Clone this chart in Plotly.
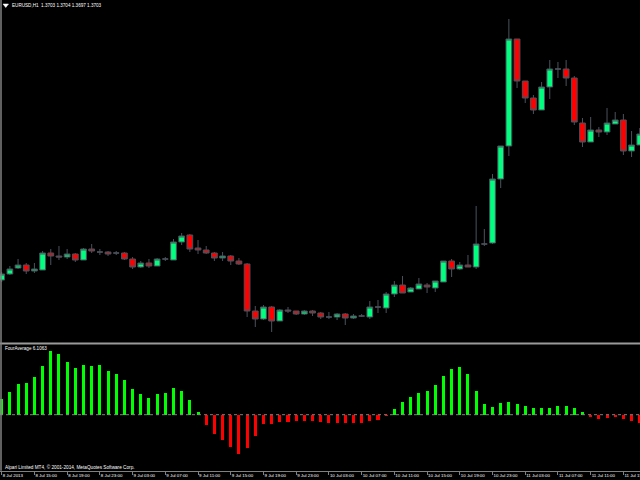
import plotly.graph_objects as go

# ---------------- data ----------------
bars = list(range(79))

opens = [1.2950, 1.2956, 1.2962, 1.2965, 1.2959, 1.2960, 1.2977, 1.2974, 1.2973, 1.2976,
         1.2970, 1.2981, 1.2978, 1.2978, 1.2977, 1.2977, 1.2971, 1.2963, 1.2967, 1.2964,
         1.2971, 1.2970, 1.2988, 1.2995, 1.2982, 1.2980, 1.2977, 1.2972, 1.2974, 1.2969,
         1.2966, 1.2919, 1.2911, 1.2923, 1.2909, 1.2920, 1.2919, 1.2916, 1.2919, 1.2917,
         1.2913, 1.2913, 1.2916, 1.2912, 1.2914, 1.2913, 1.2923, 1.2922, 1.2936, 1.2945,
         1.2938, 1.2941, 1.2945, 1.2942, 1.2948, 1.2969, 1.2961, 1.2965, 1.2963, 1.2986,
         1.2987, 1.3051, 1.3084, 1.3191, 1.3149, 1.3132, 1.3120, 1.3143, 1.3161, 1.3161,
         1.3152, 1.3107, 1.3088, 1.3100, 1.3098, 1.3106, 1.3110, 1.3079, 1.3085]

highs = [1.2958, 1.2964, 1.2971, 1.2967, 1.2967, 1.2979, 1.2981, 1.2984, 1.2981, 1.2977,
         1.2982, 1.2986, 1.2981, 1.2979, 1.2979, 1.2978, 1.2973, 1.2969, 1.2971, 1.2972,
         1.2973, 1.2991, 1.2997, 1.2996, 1.2990, 1.2984, 1.2978, 1.2978, 1.2975, 1.2972,
         1.2967, 1.2924, 1.2925, 1.2924, 1.2921, 1.2923, 1.2919, 1.2920, 1.2920, 1.2918,
         1.2918, 1.2917, 1.2917, 1.2916, 1.2916, 1.2929, 1.2930, 1.2938, 1.2949, 1.2954,
         1.2943, 1.2952, 1.2947, 1.2949, 1.2969, 1.2971, 1.2968, 1.2975, 1.3024, 1.3001,
         1.3056, 1.3084, 1.3211, 1.3191, 1.3149, 1.3135, 1.3148, 1.3170, 1.3168, 1.3170,
         1.3154, 1.3112, 1.3113, 1.3103, 1.3122, 1.3118, 1.3116, 1.3099, 1.3102]

lows = [1.2948, 1.2955, 1.2961, 1.2956, 1.2957, 1.2960, 1.2965, 1.2970, 1.2971, 1.2968,
        1.2970, 1.2977, 1.2975, 1.2974, 1.2975, 1.2970, 1.2961, 1.2962, 1.2962, 1.2964,
        1.2969, 1.2970, 1.2985, 1.2978, 1.2976, 1.2976, 1.2969, 1.2969, 1.2965, 1.2965,
        1.2913, 1.2903, 1.2910, 1.2898, 1.2909, 1.2917, 1.2915, 1.2915, 1.2914, 1.2911,
        1.2911, 1.2910, 1.2905, 1.2911, 1.2913, 1.2911, 1.2917, 1.2917, 1.2933, 1.2937,
        1.2938, 1.2941, 1.2937, 1.2938, 1.2948, 1.2953, 1.2960, 1.2963, 1.2961, 1.2984,
        1.2986, 1.3042, 1.3074, 1.3142, 1.3127, 1.3116, 1.3120, 1.3131, 1.3152, 1.3144,
        1.3105, 1.3083, 1.3088, 1.3093, 1.3095, 1.3106, 1.3075, 1.3073, 1.3085]

closes = [1.2956, 1.2961, 1.2965, 1.2959, 1.2961, 1.2977, 1.2974, 1.2973, 1.2976, 1.2970,
          1.2981, 1.2979, 1.2978, 1.2976, 1.2977, 1.2971, 1.2963, 1.2967, 1.2964, 1.2971,
          1.2971, 1.2988, 1.2994, 1.2981, 1.2980, 1.2977, 1.2972, 1.2974, 1.2969, 1.2966,
          1.2919, 1.2911, 1.2923, 1.2909, 1.2920, 1.2919, 1.2916, 1.2919, 1.2917, 1.2913,
          1.2913, 1.2916, 1.2912, 1.2914, 1.2914, 1.2923, 1.2923, 1.2936, 1.2945, 1.2937,
          1.2942, 1.2946, 1.2943, 1.2949, 1.2969, 1.2961, 1.2965, 1.2963, 1.2986, 1.2986,
          1.3051, 1.3084, 1.3191, 1.3149, 1.3132, 1.3120, 1.3143, 1.3161, 1.3161, 1.3152,
          1.3108, 1.3088, 1.3100, 1.3098, 1.3107, 1.3110, 1.3079, 1.3085, 1.3096]

four_average = [1.53, 2.30, 3.10, 3.20, 3.80, 4.87, 6.40, 6.03, 5.30, 4.70,
                4.97, 4.83, 4.97, 4.40, 4.07, 3.47, 2.57, 2.03, 1.67, 2.07,
                2.20, 2.70, 2.40, 1.47, 0.23, -1.00, -1.93, -2.50, -3.23, -3.90,
                -3.37, -2.13, -0.93, -0.90, -0.77, -0.77, -0.67, -0.63, -0.63, -0.72,
                -0.80, -0.80, -0.80, -0.80, -0.80, -0.67, -0.57, -0.13, 0.53, 1.30,
                1.80, 2.13, 2.37, 2.97, 3.87, 4.53, 4.73, 4.07, 2.37, 1.10,
                0.73, 1.13, 1.30, 1.10, 0.87, 0.67, 0.63, 0.67, 0.83, 0.83,
                0.63, 0.23, -0.20, -0.40, -0.33, -0.27, -0.40, -0.63, -0.80]

tick_bars = [0, 4, 8, 12, 16, 20, 24, 28, 32, 36, 40, 44, 48, 52, 56, 60, 64, 68, 72, 76]
tick_labels = ["8 Jul 2013", "8 Jul 15:00", "8 Jul 19:00", "8 Jul 23:00", "9 Jul 03:00",
               "9 Jul 07:00", "9 Jul 11:00", "9 Jul 15:00", "9 Jul 19:00", "9 Jul 23:00",
               "10 Jul 03:00", "10 Jul 07:00", "10 Jul 11:00", "10 Jul 15:00", "10 Jul 19:00",
               "10 Jul 23:00", "11 Jul 03:00", "11 Jul 07:00", "11 Jul 11:00", "11 Jul 15:00"]

header_text = "EURUSD,H1  1.3703 1.3704 1.3697 1.3703"
indicator_text = "FourAverage 6.1063"
copyright_text = "Alpari Limited MT4, \u00a9 2001-2014, MetaQuotes Software Corp."

# ---------------- style ----------------
W, H = 640, 480
WICK = "#4a525c"
UP = "#00FF7F"
DOWN = "#FF0000"
HIST_UP = "#00FF00"
HIST_DOWN = "#FF0000"
GRID = "#808080"
FONT = "Liberation Sans"


def py(px):
    return 1 - px / H


def px_x(px):
    return px / W


fig = go.Figure()
fig.add_trace(go.Candlestick(
    x=bars, open=opens, high=highs, low=lows, close=closes,
    xaxis="x", yaxis="y",
    increasing=dict(line=dict(color=WICK, width=1), fillcolor=UP),
    decreasing=dict(line=dict(color=WICK, width=1), fillcolor=DOWN),
    whiskerwidth=0, showlegend=False, hoverinfo="skip",
))
fig.add_trace(go.Bar(
    x=bars, y=four_average, xaxis="x", yaxis="y2",
    marker=dict(color=[HIST_UP if v > 0 else HIST_DOWN for v in four_average], line=dict(width=0)),
    width=0.37, showlegend=False, hoverinfo="skip",
))

shapes = [
    # pane separator
    dict(type="line", xref="paper", yref="paper", x0=0, x1=1, y0=py(343.5), y1=py(343.5),
         line=dict(color="#9a9a9a", width=2)),
    # left border
    dict(type="line", xref="paper", yref="paper", x0=px_x(1), x1=px_x(1), y0=py(470.7), y1=1,
         line=dict(color=GRID, width=1.5)),
    # dotted zero level
    dict(type="line", xref="paper", yref="y2", x0=0, x1=1, y0=0, y1=0,
         line=dict(color=GRID, width=1, dash="dot")),
    # header triangle icon
    dict(type="path", xref="paper", yref="paper",
         path=f"M {px_x(3)} {py(4)} L {px_x(8.5)} {py(4)} L {px_x(5.75)} {py(7.5)} Z",
         fillcolor="#ffffff", line=dict(color="#ffffff", width=0.5)),
]

annotations = [
    dict(text=header_text, xref="paper", yref="paper", x=px_x(9.5), y=py(5.5),
         xanchor="left", yanchor="middle", showarrow=False,
         font=dict(family=FONT, size=4.6, color="#ffffff")),
    dict(text=indicator_text, xref="paper", yref="paper", x=px_x(3.3), y=py(348.5),
         xanchor="left", yanchor="middle", showarrow=False,
         font=dict(family=FONT, size=4.6, color="#ffffff")),
    dict(text=copyright_text, xref="paper", yref="paper", x=px_x(3.3), y=py(466.5),
         xanchor="left", yanchor="middle", showarrow=False,
         font=dict(family=FONT, size=4.7, color="#ffffff")),
]

fig.update_layout(
    width=W, height=H,
    margin=dict(l=0, r=0, t=0, b=0, autoexpand=False),
    paper_bgcolor="#000000", plot_bgcolor="#000000",
    boxgap=0.0,
    xaxis=dict(
        range=[-0.208, 78.03], anchor="y2", domain=[0, 1],
        showgrid=False, zeroline=False,
        showline=True, linecolor=GRID, linewidth=1,
        ticks="outside", ticklen=3, tickcolor=GRID, tickwidth=1,
        tickvals=tick_bars, ticktext=tick_labels, tickangle=0,
        ticklabelposition="outside right", ticklabeloverflow="allow",
        ticklabelstandoff=0, automargin=False,
        tickfont=dict(family=FONT, size=4.4, color="#ffffff"),
        rangeslider=dict(visible=False), fixedrange=True,
    ),
    yaxis=dict(domain=[py(342), 1], range=[1.2888, 1.3230], visible=False),
    yaxis2=dict(domain=[py(470.7), py(345)], range=[-5.6, 6.97], visible=False),
    shapes=shapes, annotations=annotations,
    bargap=0,
)

fig.write_html(
    "out.html",
    config={"displayModeBar": False, "staticPlot": True},
    post_script="document.body.style.margin='0';document.body.style.padding='0';"
                "document.body.style.background='#000';document.body.style.overflow='hidden';",
)
